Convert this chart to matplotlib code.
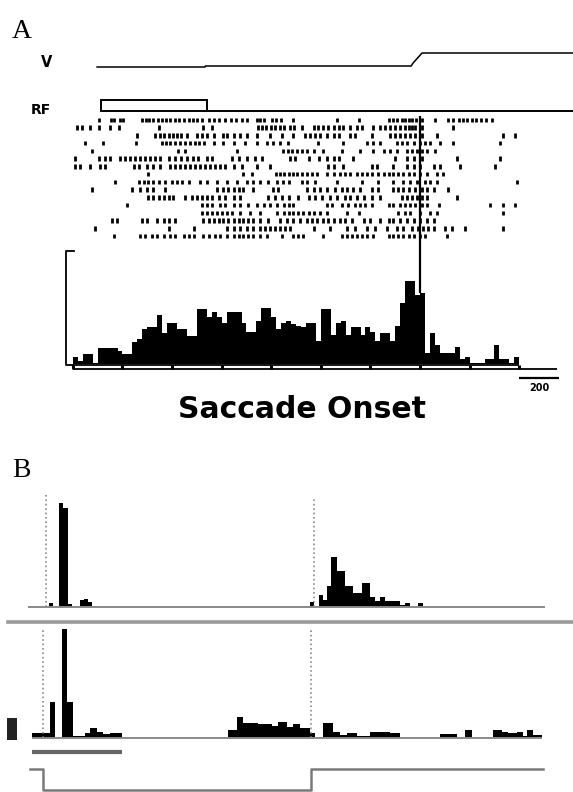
import numpy as np
import matplotlib
matplotlib.use("Agg")
import matplotlib.pyplot as plt

W, H = 573, 792

# ---- Panel A: saccade-aligned data (ms from saccade onset) ----
v_t = [-1628, -1084, -1082, -45, -35, 10, 771]
v_pos = [0, 0, 1, 1, 4, 14, 14]

rf_t = [-1074, -1608, -1608, -1074, -1074, 771]
rf_on = [0, 0, 1, 1, 0, 0]

raster = [
    [-1616, -1560, -1545, -1512, -1495, -1402, -1381, -1364, -1344, -1323, -1302, -1280, -1260, -1234,
     -1213, -1189, -1167, -1145, -1122, -1100, -1066, -1041, -1011, -982, -954, -927, -898, -873, -823,
     -806, -786, -747, -725, -702, -638, -420, -310, -159, -134, -114, -92, -75, -58, -42, -20, 9, 76,
     143, 168, 194, 219, 239, 261, 283, 306, 333, 362],
    [-1730, -1705, -1663, -1616, -1565, -1520, -1318, -1092, -1050, -819, -798, -776, -752, -730, -705,
     -685, -658, -635, -596, -537, -512, -487, -462, -436, -411, -386, -352, -319, -294, -235, -201,
     -176, -151, -126, -100, -75, -58, -42, -25, 9, 168],
    [-1428, -1335, -1310, -1290, -1268, -1246, -1226, -1206, -1176, -1125, -1100, -1075, -1041, -994,
     -971, -940, -907, -873, -823, -756, -697, -638, -579, -554, -529, -504, -470, -436, -411, -352,
     -327, -243, -151, -126, -100, -75, -50, -25, 9, 84, 420, 479],
    [-1688, -1596, -1431, -1302, -1280, -1260, -1234, -1209, -1184, -1159, -1134, -1112, -1088, -1041,
     -991, -940, -882, -823, -772, -739, -705, -668, -512, -386, -268, -235, -201, -117, -92, -67, -33,
     0, 26, 51, 101, 168, 404],
    [-1654, -1218, -1184, -924, -692, -668, -645, -621, -596, -571, -537, -487, -394, -302, -235, -184,
     -151, -117, -67, -42, -16, 9, 34, 76],
    [-1738, -1616, -1587, -1562, -1512, -1486, -1461, -1436, -1411, -1386, -1360, -1335, -1310, -1268,
     -1234, -1206, -1176, -1145, -1117, -1075, -1050, -949, -915, -873, -831, -798, -655, -630, -562,
     -507, -470, -436, -411, -336, -126, -67, -33, 9, 185, 404],
    [-1738, -1713, -1663, -1612, -1587, -1444, -1419, -1377, -1344, -1310, -1260, -1234, -1209, -1184,
     -1159, -1134, -1108, -1083, -1058, -1033, -1008, -982, -940, -898, -823, -756, -462, -436, -386,
     -243, -218, -134, -67, -33, 0, 68, 101, 202, 378],
    [-1369, -890, -848, -725, -705, -685, -663, -641, -618, -596, -571, -546, -520, -470, -436, -403,
     -378, -352, -319, -294, -268, -243, -210, -184, -159, -134, -109, -84, -58, -33, 0, 34, 84, 118],
    [-1537, -1419, -1394, -1369, -1344, -1318, -1285, -1251, -1226, -1201, -1167, -1108, -1075, -1024,
     -974, -924, -873, -840, -806, -764, -722, -692, -663, -596, -571, -529, -420, -294, -210, -134,
     -84, -50, -16, 26, 51, 84, 488],
    [-1654, -1453, -1411, -1377, -1344, -1285, -1024, -991, -966, -940, -915, -890, -840, -739, -714,
     -571, -537, -504, -470, -428, -394, -369, -336, -302, -243, -210, -134, -109, -84, -58, -25, 9,
     34, 68, 143],
    [-1369, -1344, -1318, -1293, -1268, -1243, -1184, -1150, -1125, -1100, -1075, -1050, -1016, -982,
     -940, -907, -764, -730, -697, -663, -613, -562, -529, -495, -453, -420, -378, -352, -319, -285,
     -243, -201, -92, -67, -42, -16, 9, 34, 185],
    [-1478, -1100, -1075, -1050, -1008, -982, -940, -907, -865, -823, -789, -756, -722, -688, -663,
     -638, -470, -445, -394, -361, -327, -302, -277, -243, -159, -134, -100, -75, -50, -25, 9, 34, 93,
     353, 420, 479],
    [-1100, -1075, -1050, -1024, -999, -974, -949, -907, -856, -806, -722, -688, -663, -638, -613, -588,
     -562, -537, -504, -470, -369, -310, -109, -75, -50, 0, 51, 84, 420],
    [-1554, -1528, -1402, -1377, -1327, -1293, -1268, -1234, -1092, -1066, -1041, -1016, -991, -966,
     -940, -915, -890, -865, -840, -806, -764, -705, -672, -638, -604, -571, -546, -520, -487, -462,
     -436, -403, -378, -344, -285, -252, -201, -159, -134, -100, -67, -33, 0, 34, 68],
    [-1638, -1268, -1142, -974, -940, -907, -873, -840, -806, -781, -756, -730, -705, -680, -655, -537,
     -453, -369, -327, -268, -226, -168, -117, -84, -42, -8, 17, 42, 68, 126, 160, 227, 420],
    [-1545, -1411, -1386, -1352, -1327, -1293, -1260, -1234, -1192, -1167, -1142, -1092, -1066, -1033,
     -1008, -974, -940, -915, -890, -865, -840, -806, -772, -697, -638, -613, -588, -487, -394, -369,
     -344, -319, -294, -268, -235, -159, -134, -109, -84, -58, -33, 0, 26, 135],
]

hist_start = -1750
bin_width = 25
hist_rate = [7, 3, 10, 10, 1, 16, 16, 16, 16, 13, 10, 10, 22, 25, 35, 37, 37, 49, 31, 41,
             41, 35, 35, 28, 28, 55, 55, 47, 52, 47, 41, 52, 52, 52, 41, 32, 32, 43, 56, 56,
             47, 35, 41, 43, 40, 38, 37, 41, 41, 23, 55, 55, 29, 41, 43, 29, 37, 37, 29, 37,
             32, 23, 31, 31, 23, 38, 61, 83, 83, 69, 71, 11, 31, 19, 11, 11, 11, 17, 5, 7,
             1, 1, 1, 5, 5, 19, 5, 5, 1, 7]
rate_bar = 113
tick_times = list(range(-1750, 501, 250))
scale_ms = 200

# ---- Panel B data ----
event_times = [0, 1340]
bt_edges = [-90, 15, 35, 65, 85, 110, 130, 170, 190, 210, 230, 1320, 1340, 1365, 1385, 1405,
            1425, 1455, 1495, 1535, 1580, 1620, 1645, 1670, 1695, 1770, 1795, 1820, 1860, 1885, 2495]
bt_rate = [0, 4, 0, 104, 99, 3, 0, 7, 8, 5, 0, 5, 0, 12, 7, 21, 50, 36, 21, 14, 24, 10, 6, 10,
           6, 2, 4, 0, 4, 0]

bb_edges = [-55, 0, 35, 60, 95, 120, 150, 210, 235, 270, 300, 335, 395, 925, 970, 1000, 1075,
            1145, 1175, 1220, 1250, 1285, 1335, 1360, 1400, 1450, 1485, 1520, 1570, 1635, 1735,
            1785, 1985, 2070, 2110, 2145, 2250, 2295, 2325, 2370, 2400, 2420, 2450, 2495]
bb_rate = [5, 5, 36, 0, 109, 36, 2, 5, 10, 6, 4, 5, 0, 8, 21, 15, 14, 12, 16, 11, 14, 10, 5, 0,
           15, 6, 3, 5, 2, 6, 5, 0, 4, 0, 8, 0, 8, 6, 5, 6, 2, 8, 3]
b_scale = 22

stim_on, stim_off = -55, 395
step_t = [-65, 0, 0, 1340, 1340, 2500]
step_val = [1, 1, 0, 0, 1, 1]

gray = "#8a8a8a"

fig = plt.figure(figsize=(W / 100, H / 100), dpi=100)


def px_axes(x0, y0, x1, y1):
    ax = fig.add_axes([x0 / W, 1 - y1 / H, (x1 - x0) / W, (y1 - y0) / H])
    ax.set_axis_off()
    return ax


def px_text(x, y, s, **kw):
    fig.text(x / W, 1 - y / H, s, va="baseline", **kw)


xlim_a = (-1815, 771)

# eye trace
ax_v = px_axes(60, 45, 573, 75)
ax_v.plot(v_t, v_pos, color="k", lw=1.1)
ax_v.set_xlim(xlim_a)
ax_v.set_ylim(-8, 22)

# RF stimulus trace
ax_rf = px_axes(60, 95, 573, 115)
ax_rf.plot(rf_t, rf_on, color="k", lw=1.4, solid_joinstyle="miter")
ax_rf.set_xlim(xlim_a)
ax_rf.set_ylim(-0.36, 1.45)

# raster
ax_r = px_axes(60, 116, 573, 240)
ax_r.eventplot(raster, lineoffsets=np.arange(len(raster)), linelengths=0.55,
               linewidths=2.0, colors="k")
ax_r.axvline(0, color="k", lw=1.6)
ax_r.set_xlim(xlim_a)
ax_r.set_ylim(len(raster) - 0.5, -0.5)

# histogram
ax_h = px_axes(60, 240, 573, 395)
edges = hist_start + bin_width * np.arange(len(hist_rate) + 1)
ax_h.stairs(hist_rate, edges, fill=True, color="k")
ax_h.vlines(0, hist_rate[70], 124, color="k", lw=1.6)
ax_h.plot([-1744, -1784, -1784, -1750], [rate_bar, rate_bar, -1, -1], color="k", lw=1.3)
ax_h.hlines([-1, -5], tick_times[0], tick_times[-1], color="k", lw=1.3)
ax_h.vlines(tick_times, -5, -1, color="k", lw=2.2)
ax_h.hlines(-5, tick_times[-1], 690, color="k", lw=1.3)
ax_h.hlines(-14, 500, 500 + scale_ms, color="k", lw=1.6)
ax_h.text(500 + scale_ms / 2, -27, str(scale_ms), ha="center", va="baseline",
          fontsize=7, fontweight="bold")
ax_h.set_xlim(xlim_a)
ax_h.set_ylim(-31, 124)

px_text(12, 38, "A", family="Liberation Serif", fontsize=20)
px_text(41, 67, "V", fontsize=10.5, fontweight="bold")
px_text(31, 114, "RF", fontsize=10, fontweight="bold")
px_text(302, 418, "Saccade Onset", ha="center", fontsize=21.5, fontweight="bold")
px_text(12, 477, "B", family="Liberation Serif", fontsize=20)

# ---- Panel B ----
ax_bt = px_axes(0, 488, 573, 626)
ax_bt.hlines(0, bt_edges[0], bt_edges[-1], color=gray, lw=1.4)
ax_bt.stairs(bt_rate, bt_edges, fill=True, color="k")
ax_bt.vlines(event_times, 0, [112, 110], color=gray, lw=1.2, linestyles=":")
ax_bt.axhline(-15, xmin=8 / W, color="#9a9a9a", lw=2.6)
ax_bt.set_xlim(-230, 2635)
ax_bt.set_ylim(-19, 119)

ax_bb = px_axes(0, 626, 573, 742)
ax_bb.hlines(0, bb_edges[0], bb_edges[-1], color=gray, lw=1.4)
ax_bb.stairs(bb_rate, bb_edges, fill=True, color="k")
ax_bb.vlines(event_times, 0, 108, color=gray, lw=1.2, linestyles=":")
ax_bb.bar(-180, b_scale, width=50, bottom=-2, align="edge", color="#222222")
ax_bb.set_xlim(-215, 2650)
ax_bb.set_ylim(-4, 112)

ax_s = px_axes(0, 744, 573, 760)
ax_s.hlines(0.5, stim_on, stim_off, color="#666666", lw=3.0)
ax_s.set_xlim(-215, 2650)
ax_s.set_ylim(0, 1)

ax_st = px_axes(0, 762, 573, 792)
ax_st.plot(step_t, step_val, color="#7a7a7a", lw=1.8)
ax_st.set_xlim(-215, 2650)
ax_st.set_ylim(-0.095, 1.333)

fig.savefig("out.png", dpi=100)
